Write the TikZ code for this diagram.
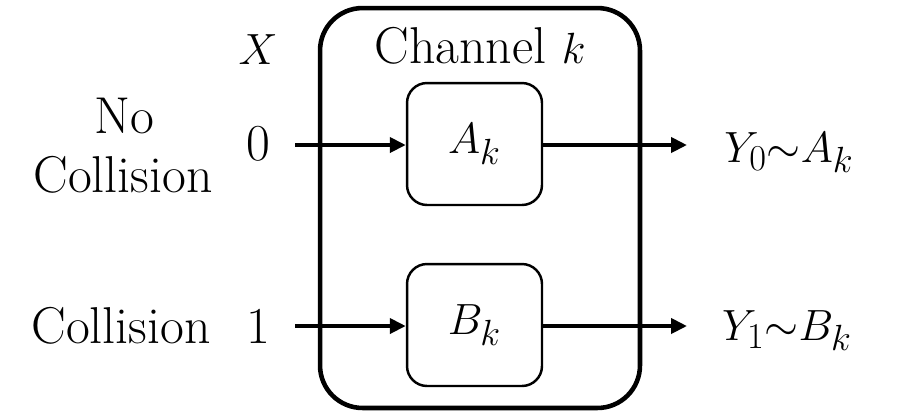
\documentclass[tikz,border=0pt]{standalone}
\usetikzlibrary{arrows.meta}
\tikzset{
  chanbox/.style={draw,line width=2.6pt,rounded corners=0.85cm,minimum width=6.4cm,minimum height=8cm},
  subbox/.style={draw,line width=1.4pt,rounded corners=0.4cm,minimum width=2.7cm,minimum height=2.44cm},
  flow/.style={line width=2.2pt,-{Triangle[length=0.32cm,width=0.3cm]}},
  lbl/.style={anchor=base,inner sep=0pt}
}
\begin{document}
\begin{tikzpicture}[x=0.02cm,y=-0.02cm,font=\fontsize{29.5}{35}\selectfont]
\useasboundingbox (0,0) rectangle (922,414);
\node[chanbox] (ch) at (480,208) {};
\node[lbl] (title) at (480,63) {Channel $k$};
\node[subbox] (a) at (474.5,144) {$A_k$};
\node[subbox] (b) at (474.5,325) {$B_k$};
% inputs
\node[lbl] (x) at (258,64) {$X$};
\node[lbl] (zero) at (258,160) {0};
\node[lbl] (one) at (258,343) {1};
\node[lbl] (no) at (124,133) {No};
\node[lbl] (nocol) at (123,192) {Collision};
\node[lbl] (col) at (121,343) {Collision};
% outputs
\node[lbl] (y0) at (789,162) {$Y_0{\sim}A_k$};
\node[lbl] (y1) at (787,340) {$Y_1{\sim}B_k$};
\coordinate (in0) at (295,145);
\coordinate (in1) at (295,326);
\coordinate (out0) at (687,145);
\coordinate (out1) at (687,326);
\draw[flow] (in0) -- (a.west |- in0);
\draw[flow] (in1) -- (b.west |- in1);
\draw[flow] (a.east |- out0) -- (out0);
\draw[flow] (b.east |- out1) -- (out1);
\end{tikzpicture}
\end{document}
